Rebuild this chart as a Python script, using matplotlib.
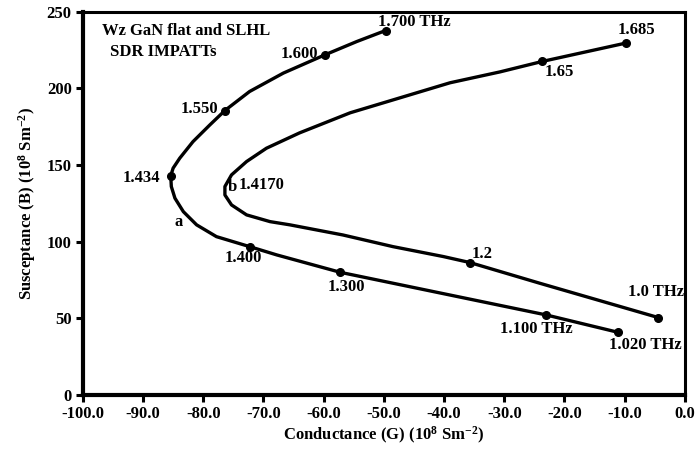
import matplotlib
matplotlib.use("Agg")
import matplotlib.pyplot as plt

# ---- data ----
# curve a (outer): traced points, ordered by frequency (1.020 THz -> 1.700 THz)
a_G = [-11.1, -23.0, -57.2, -67.8, -72.3, -77.8, -81.1, -83.3, -84.7, -85.3, -85.4,
       -85.0, -83.9, -81.7, -78.9, -76.4, -72.3, -66.7, -59.8, -54.5, -49.7]
a_B = [40.9, 52.2, 80.0, 91.4, 96.8, 103.3, 111.0, 119.6, 128.4, 136.0, 143.0,
       148.0, 154.5, 165.3, 176.2, 185.6, 198.0, 210.0, 221.9, 230.6, 237.8]
# labelled (marked) points on curve a
a_mark_G = [-11.1, -23.0, -57.2, -72.3, -85.4, -76.4, -59.8, -49.7]
a_mark_B = [40.9, 52.2, 80.0, 96.8, 143.0, 185.6, 221.9, 237.8]
a_mark_labels = ["1.020 THz", "1.100 THz", "1.300", "1.400", "1.434", "1.550", "1.600", "1.700 THz"]

# curve b (inner): traced points (1.0 THz -> 1.685)
b_G = [-4.4, -24.1, -35.7, -40.1, -48.5, -56.8, -65.6, -68.9, -72.8, -75.3, -76.4,
       -76.4, -75.3, -72.8, -69.5, -64.0, -55.6, -47.3, -39.0, -30.7, -23.7, -9.8]
b_B = [50.5, 72.9, 86.4, 90.3, 96.8, 104.4, 111.0, 113.1, 117.5, 124.0, 130.5,
       136.0, 143.6, 152.3, 161.0, 171.0, 184.1, 193.9, 203.7, 210.8, 217.6, 229.6]
b_mark_G = [-4.4, -35.7, -23.7, -9.8]
b_mark_B = [50.5, 86.4, 217.6, 229.6]
b_mark_labels = ["1.0 THz", "1.2", "1.65", "1.685"]

x_ticks = [-100, -90, -80, -70, -60, -50, -40, -30, -20, -10, 0]
y_ticks = [0, 50, 100, 150, 200, 250]

# ---- style ----
plt.rcParams["font.family"] = ["Liberation Serif", "DejaVu Serif"]
plt.rcParams["font.weight"] = "bold"
plt.rcParams["mathtext.fontset"] = "custom"
plt.rcParams["mathtext.rm"] = "Liberation Serif:bold"
plt.rcParams["mathtext.bf"] = "Liberation Serif:bold"
plt.rcParams["mathtext.it"] = "Liberation Serif:bold"
plt.rcParams["mathtext.default"] = "rm"

fig = plt.figure(figsize=(6.96, 4.54), dpi=100)
ax = fig.add_axes([0.119, 0.130, 0.865, 0.844])

lw = 2.4
ax.plot(a_G, a_B, color="black", lw=lw, solid_capstyle="round", solid_joinstyle="round")
ax.plot(b_G, b_B, color="black", lw=lw, solid_capstyle="round", solid_joinstyle="round")
ax.plot(a_mark_G, a_mark_B, "o", color="black", ms=5.5, ls="none")
ax.plot(b_mark_G, b_mark_B, "o", color="black", ms=5.5, ls="none")

fs = 12
# label positions (data coords) for each marked point
a_label_pos = [(-6.5, 32.6), (-24.6, 43.1), (-56.3, 70.5), (-73.4, 89.4),
               (-90.2, 141.6), (-80.7, 186.7), (-64.0, 222.6), (-45.0, 243.5)]
for lab, (tx, ty) in zip(a_mark_labels, a_label_pos):
    ax.text(tx, ty, lab, ha="center", va="center", fontsize=fs, fontweight="bold")
b_label_pos = [(-4.8, 67.2), (-33.6, 92.0), (-20.9, 210.8), (-8.1, 238.3)]
for lab, (tx, ty) in zip(b_mark_labels, b_label_pos):
    ax.text(tx, ty, lab, ha="center", va="center", fontsize=fs, fontweight="bold")

ax.text(-75.2, 135.8, "b", ha="center", va="center", fontsize=fs, fontweight="bold")
ax.text(-70.3, 137.1, "1.4170", ha="center", va="center", fontsize=fs, fontweight="bold")
ax.text(-84.1, 112.9, "a", ha="center", va="center", fontsize=fs, fontweight="bold")

ax.text(-96.8, 237.6, "Wz GaN flat and SLHL", ha="left", va="center", fontsize=fs, fontweight="bold")
ax.text(-95.5, 223.9, "SDR IMPATTs", ha="left", va="center", fontsize=fs, fontweight="bold")

ax.set_xlim(-100, 0)
ax.set_ylim(0, 250)
ax.set_xticks(x_ticks)
ax.set_xticklabels([f"{v:.1f}" for v in x_ticks])
ax.set_yticks(y_ticks)
ax.set_yticklabels([str(v) for v in y_ticks])
ax.tick_params(axis="both", direction="out", length=5, width=2.2, labelsize=fs, pad=3)

for s in ["left", "bottom"]:
    ax.spines[s].set_linewidth(3.0)
for s in ["top", "right"]:
    ax.spines[s].set_linewidth(2.2)

ax.set_xlabel(r"Conductance (G) (10$^{8}$ Sm$^{-2}$)", fontsize=fs, fontweight="bold", labelpad=2)
ax.set_ylabel(r"Susceptance (B) (10$^{8}$ Sm$^{-2}$)", fontsize=fs, fontweight="bold", labelpad=6)

fig.savefig("out.png", dpi=100)
